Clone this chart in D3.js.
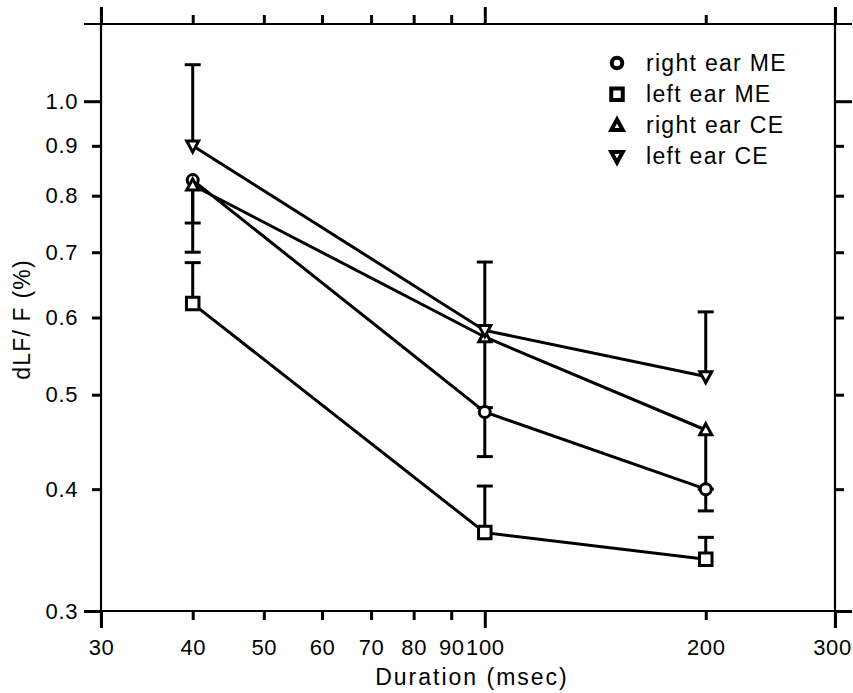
<!DOCTYPE html>
<html>
<head>
<meta charset="utf-8">
<script src="https://cdn.jsdelivr.net/npm/d3@7"></script>
<style>
  body { margin: 0; background: #fff; }
  svg { display: block; }
  text { font-family: "Liberation Sans", Arial, Helvetica, sans-serif; fill: #000; }
</style>
</head>
<body>
<div id="chart"></div>
<script>
// durations (msec)
const durations = [40, 100, 200];

// dLF/F (%) per condition
const rightME = [0.83, 0.48, 0.40];
const leftME = [0.62, 0.361, 0.339];
const rightCE = [0.82, 0.573, 0.46];
const leftCE = [0.90, 0.582, 0.522];

// one-sided error bar ends
const rightMEErr = [0.75, 0.432, 0.38];
const leftMEErr = [0.683, 0.403, 0.357];
const rightCEErr = [0.70, 0.485, 0.40];
const leftCEErr = [1.09, 0.684, 0.608];

const legendLabels = ['right ear ME', 'left ear ME', 'right ear CE', 'left ear CE'];

const xTicks = [30, 40, 50, 60, 70, 80, 90, 100, 200, 300];
const xMajor = [30, 100, 300];
const yTicks = [0.3, 0.4, 0.5, 0.6, 0.7, 0.8, 0.9, 1.0];
const yMajor = [0.3, 1.0];

const width = 853;
const height = 693;
const margin = { top: 24, right: 18, bottom: 82, left: 101 };
const major = 17;
const minor = 9;

const svg = d3
  .select('#chart')
  .append('svg')
  .attr('width', width)
  .attr('height', height);

const x = d3
  .scaleLog()
  .domain([30, 300])
  .range([margin.left, width - margin.right]);

const y = d3
  .scaleLog()
  .domain([0.3, 1.2])
  .range([height - margin.bottom, margin.top]);

const [x0, x1] = x.range();
const [y0, y1] = y.range();

// frame, each side runs past the corners like a major tick
const frame = svg.append('g').attr('stroke', '#000').attr('stroke-width', 2.2);
frame.append('line').attr('x1', x0 - major).attr('x2', x1 + major).attr('y1', y0).attr('y2', y0);
frame.append('line').attr('x1', x0 - major).attr('x2', x1 + major).attr('y1', y1).attr('y2', y1);
frame.append('line').attr('x1', x0).attr('x2', x0).attr('y1', y1 - major).attr('y2', y0 + major);
frame.append('line').attr('x1', x1).attr('x2', x1).attr('y1', y1 - major).attr('y2', y0 + major);

function styleAxis(g) {
  g.select('.domain').remove();
  g.selectAll('.tick line')
    .attr('stroke', '#000')
    .attr('stroke-width', 3);
  g.selectAll('.tick text')
    .style('font-size', '22px')
    .style('letter-spacing', '0.6px');
  return g;
}

function tickLen(d, majors) {
  return majors.some(m => Math.abs(m - d) < 1e-9) ? major : minor;
}

// bottom axis
svg
  .append('g')
  .attr('transform', `translate(0,${y0})`)
  .call(
    d3
      .axisBottom(x)
      .tickValues(xTicks)
      .tickFormat(d3.format('d'))
      .tickSizeOuter(0)
  )
  .call(g => styleAxis(g))
  .call(g => {
    g.selectAll('.tick line').attr('y2', d => tickLen(d, xMajor));
    g.selectAll('.tick text').attr('y', 28).attr('dy', '0.71em');
    g.selectAll('.tick text').filter(d => d === 300).attr('dx', -3);
  });

// top axis
svg
  .append('g')
  .attr('transform', `translate(0,${y1})`)
  .call(d3.axisTop(x).tickValues(xTicks).tickFormat('').tickSizeOuter(0))
  .call(g => styleAxis(g))
  .call(g => g.selectAll('.tick line').attr('y2', d => -tickLen(d, xMajor)));

// left axis
svg
  .append('g')
  .attr('transform', `translate(${x0},0)`)
  .call(
    d3
      .axisLeft(y)
      .tickValues(yTicks)
      .tickFormat(d3.format('.1f'))
      .tickSizeOuter(0)
  )
  .call(g => styleAxis(g))
  .call(g => {
    g.selectAll('.tick line').attr('x2', d => -tickLen(d, yMajor));
    g.selectAll('.tick text').attr('x', -23);
  });

// right axis
svg
  .append('g')
  .attr('transform', `translate(${x1},0)`)
  .call(d3.axisRight(y).tickValues(yTicks).tickFormat('').tickSizeOuter(0))
  .call(g => styleAxis(g))
  .call(g => g.selectAll('.tick line').attr('x2', d => tickLen(d, yMajor)));

// axis titles
svg
  .append('text')
  .attr('x', (x0 + x1) / 2 + 4)
  .attr('y', y0 + 74)
  .attr('text-anchor', 'middle')
  .style('font-size', '23px')
  .style('letter-spacing', '2px')
  .text('Duration (msec)');

svg
  .append('text')
  .attr('transform', `translate(30,${(y0 + y1) / 2 + 2}) rotate(-90)`)
  .attr('text-anchor', 'middle')
  .style('font-size', '23px')
  .style('letter-spacing', '1.2px')
  .text('dLF/ F (%)');

const series = [
  { name: legendLabels[0], values: rightME, err: rightMEErr, symbol: 'circle' },
  { name: legendLabels[1], values: leftME, err: leftMEErr, symbol: 'square' },
  { name: legendLabels[2], values: rightCE, err: rightCEErr, symbol: 'up' },
  { name: legendLabels[3], values: leftCE, err: leftCEErr, symbol: 'down' },
];

function markerPath(symbol, s) {
  const h = s / 2;
  if (symbol === 'circle') {
    return `M${h},0A${h},${h} 0 1,1 ${-h},0A${h},${h} 0 1,1 ${h},0Z`;
  }
  if (symbol === 'square') {
    return `M${-h},${-h}H${h}V${h}H${-h}Z`;
  }
  if (symbol === 'up') {
    return `M0,${-h * 1.05}L${h},${h * 0.8}L${-h},${h * 0.8}Z`;
  }
  return `M0,${h * 1.05}L${h},${-h * 0.8}L${-h},${-h * 0.8}Z`;
}

const markerSize = { circle: 11, square: 12.5, up: 12, down: 12 };

const line = d3
  .line()
  .x((d, i) => x(durations[i]))
  .y(d => y(d));

const plot = svg.append('g');

// connecting lines
plot
  .selectAll('path.series')
  .data(series)
  .enter()
  .append('path')
  .attr('class', 'series')
  .attr('d', d => line(d.values))
  .attr('fill', 'none')
  .attr('stroke', '#000')
  .attr('stroke-width', 3);

// error bars
const errs = series.flatMap(s =>
  s.values.map((v, i) => ({ x: durations[i], v, e: s.err[i] }))
);
const eb = plot
  .selectAll('g.err')
  .data(errs)
  .enter()
  .append('g')
  .attr('class', 'err')
  .attr('stroke', '#000')
  .attr('stroke-width', 3);
eb.append('line')
  .attr('x1', d => x(d.x))
  .attr('x2', d => x(d.x))
  .attr('y1', d => y(d.v))
  .attr('y2', d => y(d.e));
eb.append('line')
  .attr('x1', d => x(d.x) - 8)
  .attr('x2', d => x(d.x) + 8)
  .attr('y1', d => y(d.e))
  .attr('y2', d => y(d.e));

// markers
series.forEach(s => {
  plot
    .selectAll(null)
    .data(s.values)
    .enter()
    .append('path')
    .attr('d', markerPath(s.symbol, markerSize[s.symbol]))
    .attr('transform', (d, i) => `translate(${x(durations[i])},${y(d)})`)
    .attr('fill', '#fff')
    .attr('stroke', '#000')
    .attr('stroke-width', 3);
});

// legend
const legend = svg
  .append('g')
  .attr('transform', 'translate(617,63)');
const rows = legend
  .selectAll('g')
  .data(series)
  .enter()
  .append('g')
  .attr('transform', (d, i) => `translate(0,${i * 31.2})`);
rows
  .append('path')
  .attr('d', d => markerPath(d.symbol, d.symbol === 'circle' ? 10.5 : 11.5))
  .attr('fill', '#fff')
  .attr('stroke', '#000')
  .attr('stroke-width', 4);
rows
  .append('text')
  .attr('x', 29)
  .attr('y', 7.5)
  .style('font-size', '23px')
  .style('letter-spacing', '1.3px')
  .text(d => d.name);
</script>
</body>
</html>
